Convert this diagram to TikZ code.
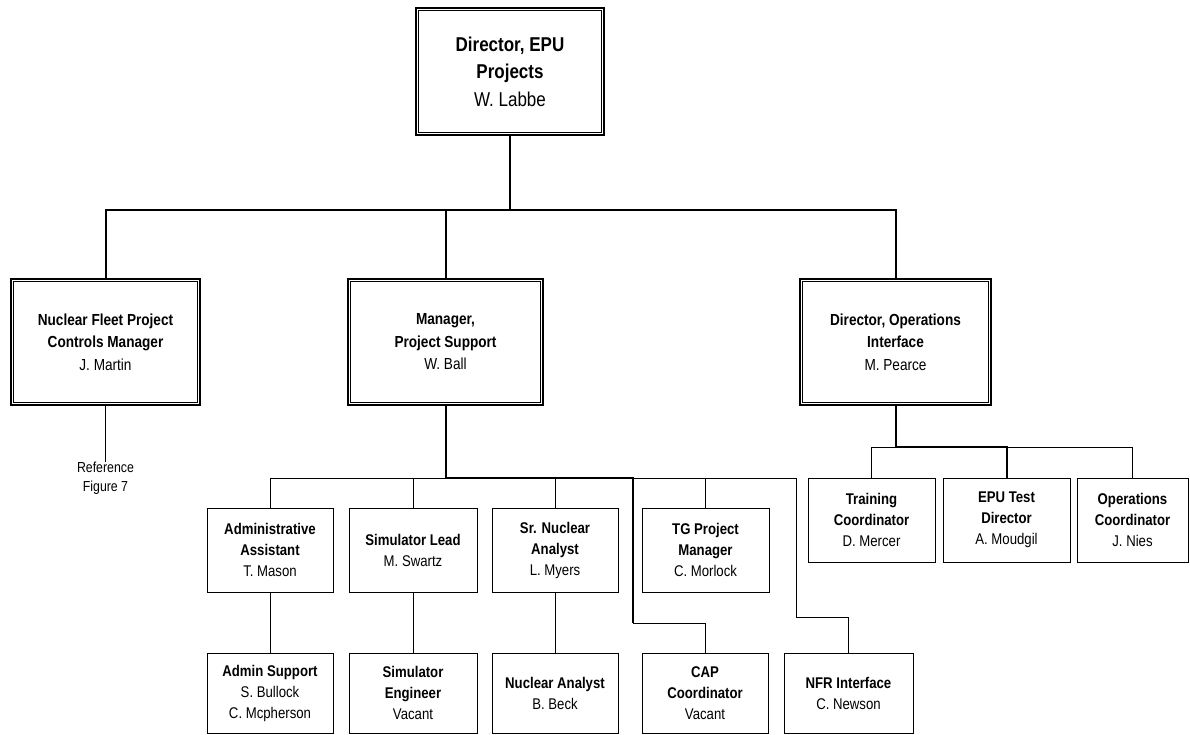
\documentclass[tikz,border=0pt]{standalone}
\usepackage{fontspec}
\setmainfont{Liberation Sans}[FakeStretch=0.85]

\begin{document}
\begin{tikzpicture}[x=1pt,y=-1pt,
  headbox/.style={draw, line width=2.4pt, align=center, inner sep=0pt,
    font=\fontsize{16}{22.5}\selectfont},
  posbox/.style={draw, line width=1pt, align=center, inner sep=0pt,
    minimum width=126, minimum height=84, font=\fontsize{15.5}{21}\selectfont},
  mainline/.style={line width=2pt},
  subline/.style={line width=1pt}]
  \useasboundingbox (0,0) rectangle (1190,735);

  % top level
  \node[headbox, minimum width=188, minimum height=127, font=\fontsize{20}{27.5}\selectfont]
    (ceo) at (510,71.5) {\textbf{Director, EPU}\\\textbf{Projects}\\W. Labbe};
  \node[headbox, minimum width=189, minimum height=126] (fleet) at (105.5,342)
    {\textbf{Nuclear Fleet Project}\\\textbf{Controls Manager}\\J. Martin};
  \node[headbox, minimum width=195, minimum height=126] (support) at (445.5,342)
    {\textbf{Manager,}\\\textbf{Project Support}\\W. Ball};
  \node[headbox, minimum width=191, minimum height=126] (ops) at (895.5,342)
    {\textbf{Director, Operations}\\\textbf{Interface}\\M. Pearce};
  \foreach \n in {ceo,fleet,support,ops}
    \draw[line width=0.8pt] ([shift={(4pt,-4pt)}]\n.north west)
      rectangle ([shift={(-4pt,4pt)}]\n.south east);

  \node[align=center, inner sep=0pt, font=\fontsize{14.5}{19}\selectfont]
    (ref) at (105.5,478) {Reference\\Figure 7};

  % project support staff
  \node[posbox] (admin) at (270,550) {\textbf{Administrative}\\\textbf{Assistant}\\T. Mason};
  \node[posbox, minimum width=128] (simlead) at (413,550) {\textbf{Simulator Lead}\\M. Swartz};
  \node[posbox] (srna) at (555,550) {\textbf{Sr. Nuclear}\\\textbf{Analyst}\\L. Myers};
  \node[posbox, minimum width=127] (tgpm) at (705.5,550) {\textbf{TG Project}\\\textbf{Manager}\\C. Morlock};

  \node[posbox, minimum height=80] (adminsup) at (270,693) {\textbf{Admin Support}\\S. Bullock\\C. Mcpherson};
  \node[posbox, minimum width=128, minimum height=80] (simeng) at (413,693) {\textbf{Simulator}\\\textbf{Engineer}\\Vacant};
  \node[posbox, minimum height=80] (nucan) at (555,693) {\textbf{Nuclear Analyst}\\B. Beck};
  \node[posbox, minimum height=80] (cap) at (705,693) {\textbf{CAP}\\\textbf{Coordinator}\\Vacant};
  \node[posbox, minimum width=129, minimum height=80] (nfr) at (848.5,693) {\textbf{NFR Interface}\\C. Newson};

  % operations staff
  \node[posbox, minimum width=127] (train) at (871.5,520) {\textbf{Training}\\\textbf{Coordinator}\\D. Mercer};
  \node[posbox, minimum width=127] (epu) at (1006.5,520) {\textbf{EPU Test}\\\textbf{Director}\\A. Moudgil};
  \node[posbox, minimum width=111] (opco) at (1132.5,520) {\textbf{Operations}\\\textbf{Coordinator}\\J. Nies};

  % connectors
  \coordinate (bar1) at (510,210);
  \coordinate (bar2) at (445.5,478);
  \coordinate (bar3) at (895.5,447);
  \coordinate (capjog) at (633,623);
  \coordinate (nfrjog) at (796,617);

  \draw[mainline] (ceo) -- (bar1);
  \draw[mainline] (bar1) -| (fleet);
  \draw[mainline] (bar1) -| (support);
  \draw[mainline] (bar1) -| (ops);
  \draw[subline] (fleet) -- (ref);

  \draw[mainline] (support) -- (bar2);
  \draw[subline] (bar2) -| (admin);
  \draw[subline] (bar2) -| (simlead);
  \draw[subline] (bar2) -| (srna);
  \draw[subline] (bar2) -| (tgpm);
  \draw[mainline] (bar2) -| (capjog);
  \draw[subline] (capjog) -| (cap);
  \draw[subline] (bar2) -| (nfrjog) -| (nfr);
  \draw[subline] (admin) -- (adminsup);
  \draw[subline] (simlead) -- (simeng);
  \draw[subline] (srna) -- (nucan);

  \draw[mainline] (ops) -- (bar3);
  \draw[subline] (bar3) -| (train);
  \draw[mainline] (bar3) -| (epu);
  \draw[subline] (bar3) -| (opco);
\end{tikzpicture}
\end{document}
